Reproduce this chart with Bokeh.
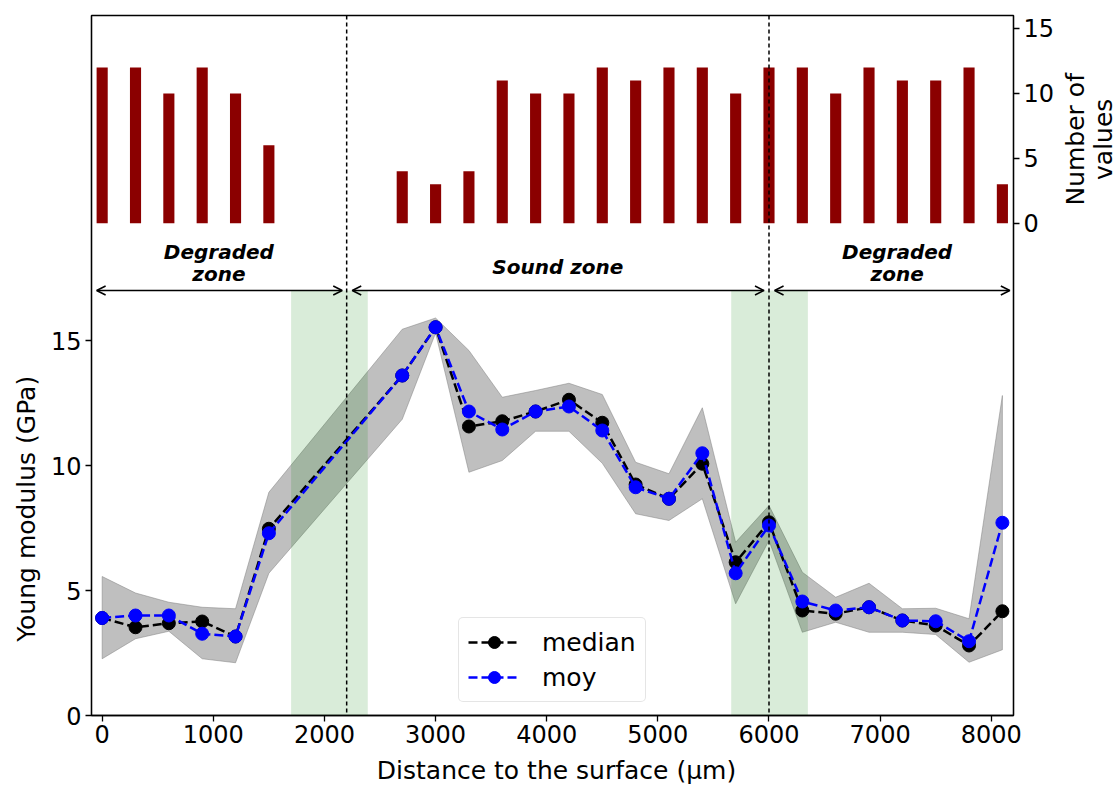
import math
from bokeh.plotting import figure
from bokeh.layouts import row, column
from bokeh.core.properties import value
from bokeh.models import (Range1d, LinearAxis, FixedTicker, Label, Arrow, OpenHead,
                          Span, Legend, LegendItem, ColumnDataSource)
from bokeh.embed import file_html
from bokeh.resources import INLINE

# ---------------- data ----------------
count_depth = [0, 300, 600, 900, 1200, 1500, 1800, 2100, 2400, 2700, 3000, 3300, 3600, 3900,
               4200, 4500, 4800, 5100, 5400, 5700, 6000, 6300, 6600, 6900, 7200, 7500, 7800, 8100]
n_values = [12, 12, 10, 12, 10, 6, 0, 0, 0, 4, 3, 4, 11, 10,
            10, 12, 11, 12, 12, 10, 12, 12, 10, 12, 11, 11, 12, 3]

depth = [0, 300, 600, 900, 1200, 1500, 2700, 3000, 3300, 3600, 3900, 4200, 4500,
         4800, 5100, 5400, 5700, 6000, 6300, 6600, 6900, 7200, 7500, 7800, 8100]
median = [3.90, 3.53, 3.69, 3.76, 3.16, 7.47, 13.60, 15.53, 11.56, 11.77, 12.16, 12.63, 11.71,
          9.24, 8.67, 10.07, 6.13, 7.73, 4.20, 4.07, 4.33, 3.80, 3.60, 2.80, 4.17]
moy = [3.90, 4.00, 4.00, 3.27, 3.16, 7.29, 13.60, 15.53, 12.16, 11.44, 12.16, 12.36, 11.40,
       9.13, 8.67, 10.49, 5.69, 7.60, 4.56, 4.20, 4.33, 3.80, 3.77, 2.97, 7.71]
upper = [5.56, 4.90, 4.53, 4.33, 4.27, 8.93, 15.45, 15.90, 14.60, 12.73, 13.00, 13.29, 12.84,
         10.13, 9.67, 12.31, 6.93, 8.40, 5.73, 4.73, 5.29, 4.27, 4.29, 3.87, 12.80]
lower = [2.27, 3.07, 3.37, 2.27, 2.11, 5.69, 11.85, 15.30, 9.73, 10.20, 11.37, 11.37, 10.09,
         8.07, 7.80, 8.67, 4.47, 7.00, 3.33, 3.73, 3.33, 3.33, 3.24, 2.13, 2.63]

transition_left = [1700, 5660]
transition_right = [2390, 6350]
zone_limits = [2200, 6000]

x_ticks = [0, 1000, 2000, 3000, 4000, 5000, 6000, 7000, 8000]
y_ticks = [0, 5, 10, 15]
count_ticks = [0, 5, 10, 15]

FONT = "DejaVu Sans"
W = 1119
H_TOP = 752
H_BOT = 33
LEFT_W = 45
RIGHT_W = 56
MAIN_W = W - LEFT_W - RIGHT_W

p = figure(width=MAIN_W, height=H_TOP, output_backend="svg", toolbar_location=None,
           x_range=Range1d(-96, 8200), y_range=Range1d(0, 28))
p.min_border_left = 46
p.min_border_right = MAIN_W - 46 - 922
p.min_border_top = 15
p.min_border_bottom = H_TOP - 15 - 700
p.xgrid.visible = False
p.ygrid.visible = False
p.outline_line_color = "black"
p.outline_line_width = 1.3
p.outline_line_alpha = 1.0
p.background_fill_color = "white"
p.border_fill_color = "white"

p.extra_y_ranges = {"counts": Range1d(-37.9, 16.0)}

def style_axis(ax):
    ax.axis_line_color = "black"
    ax.axis_line_width = 1.3
    ax.major_tick_line_color = "black"
    ax.major_tick_line_width = 1.3
    ax.major_tick_out = 6
    ax.major_tick_in = 0
    ax.minor_tick_line_color = None
    ax.major_label_text_font = FONT
    ax.major_label_text_font_size = "24px"
    ax.major_label_text_color = "black"
    ax.major_label_standoff = 4

xa = p.xaxis[0]
xa.ticker = FixedTicker(ticks=x_ticks)
style_axis(xa)
xa.major_label_standoff = 3

ya = p.yaxis[0]
ya.ticker = FixedTicker(ticks=y_ticks)
style_axis(ya)

ra = LinearAxis(y_range_name="counts", ticker=FixedTicker(ticks=count_ticks))
style_axis(ra)
p.add_layout(ra, "right")

# bars: number of values
bar_src = ColumnDataSource(dict(x=count_depth, top=n_values))
p.vbar(x="x", top="top", bottom=0, width=100, source=bar_src, y_range_name="counts",
       fill_color="#8b0000", line_color=None)

# grey band
band_x = depth + depth[::-1]
band_y = upper + lower[::-1]
p.patch(band_x, band_y, fill_color="gray", fill_alpha=0.5, line_color="gray", line_alpha=0.5,
        line_width=1)

# transition zones
p.quad(left=transition_left, right=transition_right, bottom=0, top=17,
       fill_color="green", fill_alpha=0.15, line_color=None)

# median and mean
src = ColumnDataSource(dict(x=depth, med=median, moy=moy))
l1 = p.line("x", "med", source=src, line_color="black", line_width=2.5, line_dash="9 4")
s1 = p.scatter("x", "med", source=src, size=13, fill_color="black", line_color="black")
l2 = p.line("x", "moy", source=src, line_color="blue", line_width=2.5, line_dash="9 4")
s2 = p.scatter("x", "moy", source=src, size=13, fill_color="blue", line_color="blue")

for loc in zone_limits:
    p.add_layout(Span(location=loc, dimension="height", line_color="black",
                      line_width=1.5, line_dash="4 3"))

# zone arrows
for x0, x1 in [(-50, 2160), (2250, 5955), (6050, 8167)]:
    p.add_layout(Arrow(x_start=x0, x_end=x1, y_start=17, y_end=17, line_width=1.5,
                       line_color="black",
                       start=OpenHead(size=9, line_width=1.5, line_color="black"),
                       end=OpenHead(size=9, line_width=1.5, line_color="black")))

def zone_text(x, y, t):
    p.add_layout(Label(x=x, y=y, text=t, text_font=FONT, text_font_size="20px",
                       text_font_style="bold italic", text_align="center",
                       text_baseline="alphabetic", text_color="black"))

zone_text(1050, 18.56, "Degraded")
zone_text(1050, 17.68, "zone")
zone_text(4100, 17.95, "Sound zone")
zone_text(7153, 18.56, "Degraded")
zone_text(7153, 17.68, "zone")

legend = Legend(items=[LegendItem(label="median", renderers=[l1, s1]),
                       LegendItem(label="moy", renderers=[l2, s2])],
                location=(367, 13))
legend.label_text_font = FONT
legend.label_text_font_size = "25px"
legend.label_text_color = "black"
legend.glyph_width = 52
legend.glyph_height = 30
legend.label_standoff = 22
legend.spacing = 5
legend.padding = 9
legend.margin = 0
legend.border_line_color = "#cccccc"
legend.border_line_width = 1.3
legend.background_fill_alpha = 0.8
if "border_radius" in Legend.properties():
    legend.border_radius = 5
p.add_layout(legend)

# side panels holding the axis titles
def side_fig(w, h):
    f = figure(width=w, height=h, output_backend="svg", toolbar_location=None,
               x_range=Range1d(0, w), y_range=Range1d(0, h),
               x_axis_type=None, y_axis_type=None)
    f.min_border = 0
    f.min_border_left = 0
    f.min_border_right = 0
    f.min_border_top = 0
    f.min_border_bottom = 0
    f.outline_line_color = None
    f.xgrid.visible = False
    f.ygrid.visible = False
    f.background_fill_color = "white"
    f.border_fill_color = "white"
    return f

left = side_fig(LEFT_W, H_TOP)
left.text(x=[26], y=[H_TOP - 530], text=["Young modulus (GPa)"], angle=math.pi / 2,
          text_font=value(FONT), text_font_size="25px", text_align="center",
          text_baseline="middle", text_color="black")

right = side_fig(RIGHT_W, H_TOP)
right.text(x=[1075 - (W - RIGHT_W), 1103 - (W - RIGHT_W)], y=[H_TOP - 133, H_TOP - 133],
           text=["Number of", "values"], angle=math.pi / 2,
           text_font=value(FONT), text_font_size="25px", text_align="center",
           text_baseline="middle", text_color="black")

bottom = side_fig(W, H_BOT)
bottom.text(x=[556], y=[H_BOT - (769.5 - H_TOP)], text=["Distance to the surface (μm)"],
            text_font=value(FONT), text_font_size="25px", text_align="center",
            text_baseline="middle", text_color="black")

layout = column(row(left, p, right, spacing=0), bottom, spacing=0)
open("out.html", "w").write(file_html(layout, INLINE))
